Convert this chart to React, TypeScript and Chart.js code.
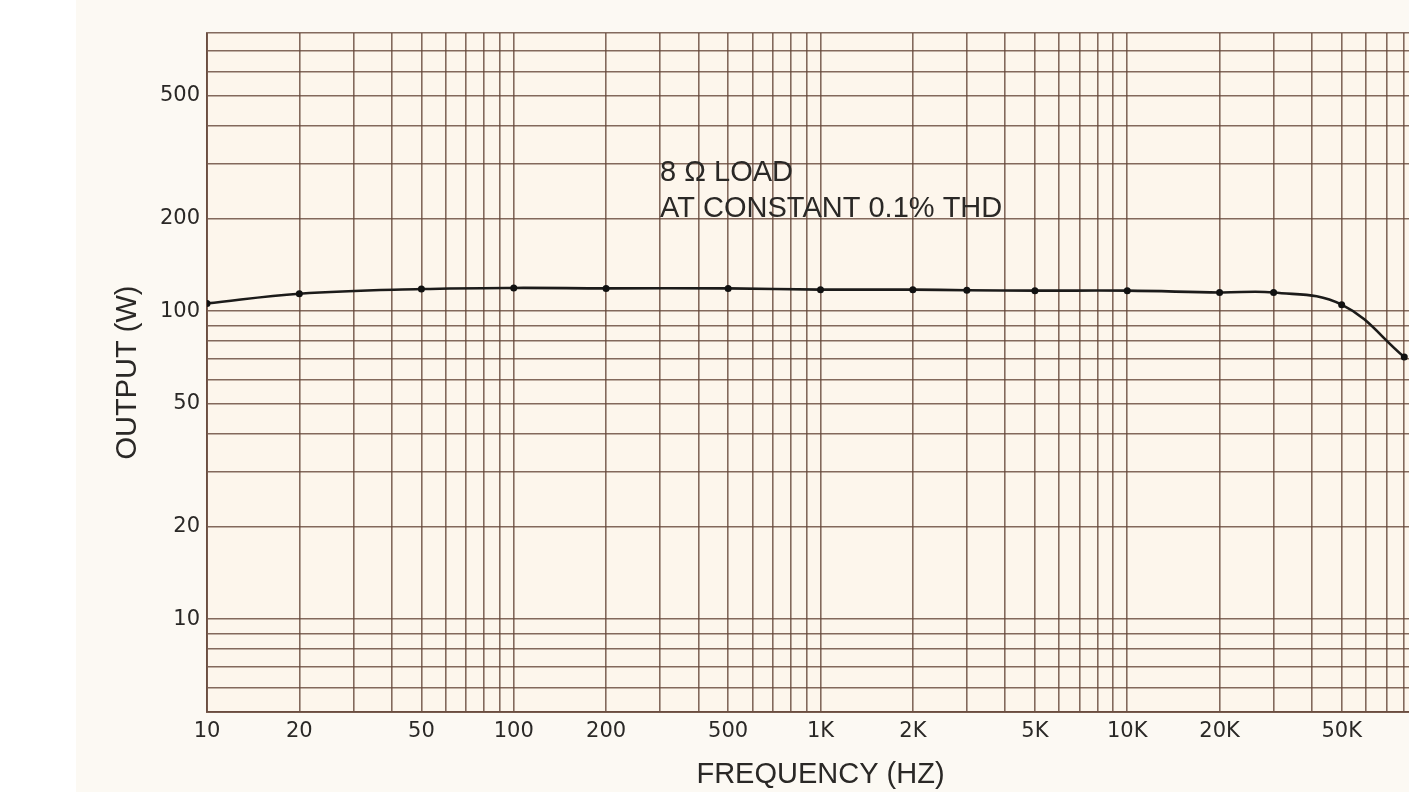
import React, { useEffect, useRef } from "react";
import { Chart, registerables } from "chart.js";

Chart.register(...registerables);

// ---- data ----
const frequencyHz = [10, 20, 50, 100, 200, 500, 1000, 2000, 3000, 5000, 10000, 20000, 30000, 50000, 80000];
const outputWatts = [106, 114, 118, 119, 118.6, 118.6, 117.5, 117.5, 117, 116.6, 116.6, 115, 115, 105, 71];

const xLabelValues = [10, 20, 50, 100, 200, 500, 1000, 2000, 5000, 10000, 20000, 50000, 100000];
const xLabelTexts = ["10", "20", "50", "100", "200", "500", "1K", "2K", "5K", "10K", "20K", "50K", "100K"];
const yLabelValues = [10, 20, 50, 100, 200, 500];
const yLabelTexts = ["10", "20", "50", "100", "200", "500"];

const xMin = 10;
const xMax = 100000;
const yMin = 5;
const yMax = 800;

const annotationLines = ["8 \u03A9 LOAD", "AT CONSTANT 0.1% THD"];
const annotationX = 300;
const annotationY = 282;

const TEXT_FONT = '"Liberation Sans", Arial, Helvetica, sans-serif';
const TICK_FONT = '"DejaVu Sans", "Liberation Sans", sans-serif';
const TEXT_COLOR = "#2a2826";
const GRID_COLOR = "rgba(100, 70, 56, 0.8)";

function logGridValues(min: number, max: number): number[] {
  const out: number[] = [];
  const e0 = Math.floor(Math.log10(min));
  const e1 = Math.ceil(Math.log10(max));
  for (let e = e0; e <= e1; e++) {
    for (let m = 1; m <= 9; m++) {
      const v = Math.round(m * Math.pow(10, e) * 1000) / 1000;
      if (v >= min - 1e-9 && v <= max + 1e-9) out.push(v);
    }
  }
  return out;
}

function labelFor(values: number[], texts: string[], v: number): string {
  const i = values.findIndex((x) => Math.abs(x - v) / x < 1e-6);
  return i >= 0 ? texts[i] : "";
}

const paperPlugin = {
  id: "paper",
  beforeDraw(chart: any) {
    const { ctx, chartArea } = chart;
    ctx.save();
    ctx.fillStyle = "#fdf6ec";
    ctx.fillRect(chartArea.left, chartArea.top, chartArea.right - chartArea.left, chartArea.bottom - chartArea.top);
    ctx.restore();
  },
};

const annotationPlugin = {
  id: "annotationText",
  afterDraw(chart: any) {
    const { ctx, scales } = chart;
    const x = scales.x.getPixelForValue(annotationX);
    const y = scales.y.getPixelForValue(annotationY);
    ctx.save();
    ctx.font = `29px ${TEXT_FONT}`;
    ctx.fillStyle = TEXT_COLOR;
    ctx.textAlign = "left";
    ctx.textBaseline = "middle";
    annotationLines.forEach((line, i) => {
      ctx.fillText(line, x, y + i * 36);
    });
    ctx.restore();
  },
};

export default function App() {
  const canvasRef = useRef<HTMLCanvasElement | null>(null);

  useEffect(() => {
    const canvas = canvasRef.current;
    if (!canvas) return;
    const xGrid = logGridValues(xMin, xMax);
    const yGrid = logGridValues(yMin, yMax);

    const chart = new Chart(canvas, {
      type: "line",
      data: {
        datasets: [
          {
            label: "Output",
            data: frequencyHz.map((f, i) => ({ x: f, y: outputWatts[i] })),
            borderColor: "#1c1b1a",
            backgroundColor: "#1c1b1a",
            borderWidth: 2.6,
            pointRadius: 3.5,
            pointBackgroundColor: "#111",
            pointBorderWidth: 0,
            tension: 0.4,
            fill: false,
          },
        ],
      },
      options: {
        responsive: false,
        maintainAspectRatio: false,
        animation: false,
        devicePixelRatio: 1,
        layout: { padding: { top: 33, right: 36, bottom: 0, left: 0 } },
        plugins: {
          legend: { display: false },
          tooltip: { enabled: false },
        },
        scales: {
          x: {
            type: "logarithmic",
            min: xMin,
            max: xMax,
            afterBuildTicks: (scale: any) => {
              scale.ticks = xGrid.map((v) => ({ value: v }));
            },
            afterFit: (scale: any) => {
              scale.height = 80;
            },
            ticks: {
              autoSkip: false,
              maxRotation: 0,
              minRotation: 0,
              padding: 7,
              color: TEXT_COLOR,
              font: { family: TICK_FONT, size: 21 },
              callback: (v: any) => labelFor(xLabelValues, xLabelTexts, Number(v)),
            },
            grid: { color: GRID_COLOR, lineWidth: 1.6, drawTicks: false },
            border: { display: true, color: GRID_COLOR, width: 2 },
            title: {
              display: true,
              text: "FREQUENCY (HZ)",
              color: TEXT_COLOR,
              font: { family: TEXT_FONT, size: 29 },
              padding: { top: 0, bottom: 0 },
            },
          },
          y: {
            type: "logarithmic",
            min: yMin,
            max: yMax,
            afterBuildTicks: (scale: any) => {
              scale.ticks = yGrid.map((v) => ({ value: v }));
            },
            afterFit: (scale: any) => {
              scale.width = 207;
            },
            ticks: {
              autoSkip: false,
              padding: 7,
              color: TEXT_COLOR,
              font: { family: TICK_FONT, size: 21 },
              callback: (v: any) => labelFor(yLabelValues, yLabelTexts, Number(v)),
            },
            grid: { color: GRID_COLOR, lineWidth: 1.6, drawTicks: false },
            border: { display: true, color: GRID_COLOR, width: 2 },
            title: {
              display: true,
              text: "OUTPUT (W)",
              color: TEXT_COLOR,
              font: { family: TEXT_FONT, size: 29 },
              padding: { top: 111, bottom: 0 },
            },
          },
        },
      },
      plugins: [paperPlugin, annotationPlugin],
    } as any);

    return () => chart.destroy();
  }, []);

  return (
    <div
      style={{
        position: "fixed",
        left: 0,
        top: 0,
        width: 1409,
        height: 792,
        overflow: "hidden",
        background: "linear-gradient(to right, #ffffff 0px, #ffffff 76px, #fcf9f3 76px)",
      }}
    >
      <canvas ref={canvasRef} width={1470} height={792} style={{ display: "block", width: 1470, height: 792 }} />
    </div>
  );
}
